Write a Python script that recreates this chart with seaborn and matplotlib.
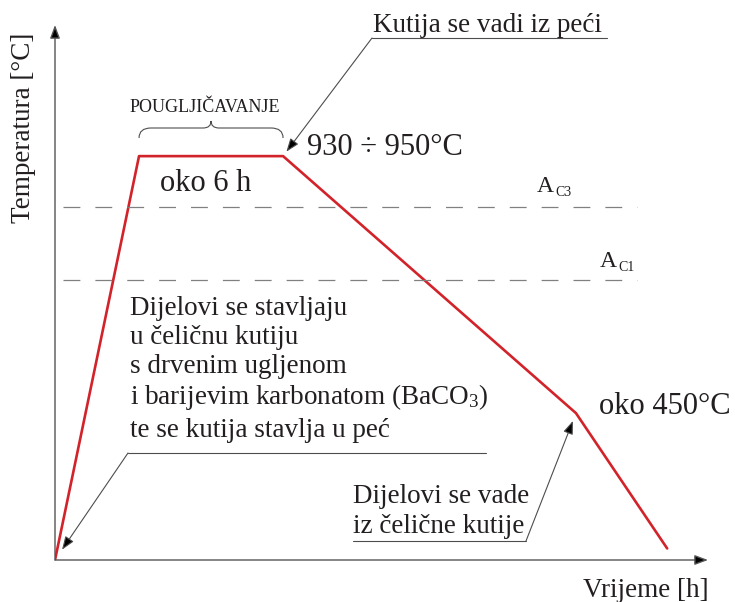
import numpy as np
import pandas as pd
import matplotlib
matplotlib.use("Agg")
import matplotlib.pyplot as plt
from matplotlib.path import Path
from matplotlib.patches import PathPatch
import seaborn as sns

# ---- data (schematic heat-treatment cycle) ----
time_h = [0.0, 3.5, 9.5, 21.7, 25.5]          # time [h]
temp_c = [170, 940, 940, 450, 192]            # temperature [°C]
ac3_temp = 843
ac1_temp = 704
dash_end_h = 24.25
x_max, y_min, y_max = 27.2, 170, 1190

sns.set_style("white")
plt.rcParams["font.family"] = ["Liberation Serif", "DejaVu Serif"]
plt.rcParams["mathtext.fontset"] = "custom"
plt.rcParams["mathtext.rm"] = "Liberation Serif"
plt.rcParams["mathtext.it"] = "Liberation Serif:italic"

W, H = 735, 602
fig = plt.figure(figsize=(W / 100, H / 100), dpi=100)
ax = fig.add_axes([55 / W, (H - 560) / H, 653 / W, 535 / H])

TXT = "#231f20"
RED = "#d2232a"
GRAY = "#4d4d4d"


def fp(x, y):
    return (x / W, 1 - y / H)


df = pd.DataFrame({"t": time_h, "T": temp_c})
sns.lineplot(data=df, x="t", y="T", sort=False, color=RED, lw=1.9, ax=ax)

ax.hlines([ac3_temp, ac1_temp], 0.33, dash_end_h, colors="#808080",
          lw=0.9, linestyles=[(0, (13.5, 12))])

ax.set_xlim(0, x_max)
ax.set_ylim(y_min, y_max)
ax.set_xticks([])
ax.set_yticks([])
ax.set_xlabel("")
ax.set_ylabel("")
for s in ax.spines.values():
    s.set_visible(False)
ax.patch.set_alpha(0)

# axis arrows
axarrow = dict(arrowstyle="-|>,head_length=0.8,head_width=0.3", ec="#555555",
               fc="black", lw=1.0, shrinkA=0, shrinkB=0, mutation_scale=10)
ax.annotate("", xy=(1, 0), xytext=(0, 0), xycoords="axes fraction",
            textcoords="axes fraction", arrowprops=axarrow, annotation_clip=False)
ax.annotate("", xy=(0, 1), xytext=(0, 0), xycoords="axes fraction",
            textcoords="axes fraction", arrowprops=axarrow, annotation_clip=False)

# axis titles
fig.text(*fp(24, 127.5), "Temperatura [°C]", rotation=90, ha="center",
         va="center", fontsize=19.5, color=TXT)
fig.text(*fp(583, 597), "Vrijeme [h]", ha="left", va="baseline",
         fontsize=19.5, color=TXT)

# texts
fig.text(*fp(307, 155), "930 ÷ 950°C", ha="left", va="baseline", fontsize=22, color=TXT)
fig.text(*fp(160, 191), "oko 6 h", ha="left", va="baseline", fontsize=22, color=TXT)
fig.text(*fp(599, 414), "oko 450°C", ha="left", va="baseline", fontsize=22, color=TXT)
fig.text(*fp(130, 112), "POUGLJIČAVANJE", ha="left", va="baseline", fontsize=13, color=TXT)
fig.text(*fp(537, 192), "A", ha="left", va="baseline", fontsize=17, color=TXT)
fig.text(*fp(555, 196), "C3", ha="left", va="baseline", fontsize=10, color=TXT)
fig.text(*fp(600, 267), "A", ha="left", va="baseline", fontsize=17, color=TXT)
fig.text(*fp(618, 271), "C1", ha="left", va="baseline", fontsize=10, color=TXT)
fig.text(*fp(373, 32), "Kutija se vadi iz peći", ha="left", va="baseline",
         fontsize=19.5, color=TXT)

block = ["Dijelovi se stavljaju", "u čeličnu kutiju", "s drvenim ugljenom",
         r"i barijevim karbonatom (BaCO$_3$)", "te se kutija stavlja u peć"]
block_y = [315, 344, 373, 404, 437]
for line, yb in zip(block, block_y):
    fig.text(*fp(130, yb), line, ha="left", va="baseline", fontsize=19.5, color=TXT)

fig.text(*fp(353, 503), "Dijelovi se vade", ha="left", va="baseline", fontsize=19.5, color=TXT)
fig.text(*fp(353, 533), "iz čelične kutije", ha="left", va="baseline", fontsize=19.5, color=TXT)

# underlines
for (x0, x1, y) in [(372, 607, 38), (128, 486, 453), (353, 526, 541)]:
    fig.add_artist(plt.Line2D([x0 / W, x1 / W], [1 - y / H, 1 - y / H],
                              color=GRAY, lw=0.8, transform=fig.transFigure))

# leader arrows
def leader(xy_data, start_px, shrink):
    ax.annotate("", xy=xy_data, xycoords="data", xytext=fp(*start_px),
                textcoords="figure fraction", annotation_clip=False,
                arrowprops=dict(arrowstyle="-|>,head_length=0.8,head_width=0.3",
                                ec=GRAY, fc="black", lw=0.8, shrinkA=0,
                                shrinkB=shrink, mutation_scale=10))

leader((time_h[2], temp_c[2]), (372, 38), 4)
leader((time_h[0], temp_c[0]), (128, 453), 9)
leader((time_h[3], temp_c[3]), (526, 541), 6)

# curly brace over the soaking plateau
def px(xd, yd):
    p = ax.transData.transform((xd, yd))
    return p[0], H - p[1]

xl, _ = px(time_h[1], temp_c[1])
xr, _ = px(time_h[2], temp_c[2])
xm = (xl + xr) / 2
yb, yt, yc = 138, 128, 121
verts = [(xl, yb), (xl, yt), (xl + 12, yt), (xm - 8, yt), (xm, yt), (xm, yc),
         (xm, yt), (xm + 8, yt), (xr - 12, yt), (xr, yt), (xr, yb)]
codes = [Path.MOVETO, Path.CURVE3, Path.CURVE3, Path.LINETO, Path.CURVE3, Path.CURVE3,
         Path.CURVE3, Path.CURVE3, Path.LINETO, Path.CURVE3, Path.CURVE3]
verts_f = [fp(x, y) for x, y in verts]
fig.add_artist(PathPatch(Path(verts_f, codes), fill=False, ec=GRAY, lw=0.8,
                         transform=fig.transFigure))

fig.savefig("out.png", dpi=100)
